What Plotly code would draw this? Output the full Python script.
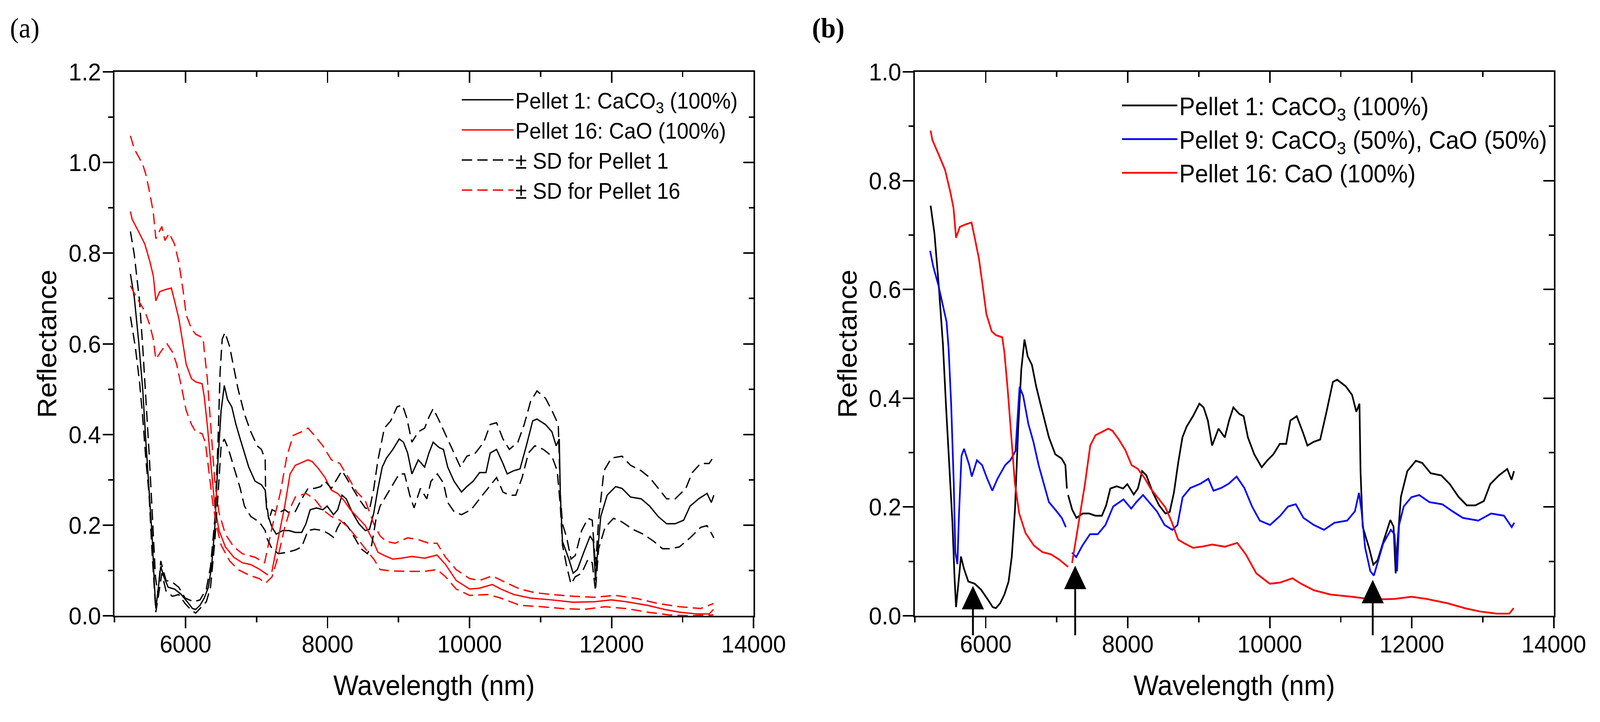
import plotly.graph_objects as go

# ---------------- data ----------------
# Pellet 1: CaCO3 (100%) -- mean
p1_x = [5224, 5278, 5337, 5397, 5442, 5487, 5531, 5561, 5582, 5612, 5651, 5695, 5755, 5845, 5934,
        6024, 6098, 6143, 6203, 6263, 6322, 6367, 6412, 6457, 6501, 6546, 6591, 6651, 6710, 6770,
        6830, 6890, 6979, 7069, 7122, 7143, 7150, 7160, 7218, 7278, 7367, 7457, 7546, 7636, 7696,
        7755, 7845, 7934, 7994, 8084, 8143, 8203, 8263, 8352, 8442, 8531, 8591, 8651, 8710, 8770,
        8830, 8919, 9009, 9069, 9128, 9188, 9278, 9367, 9427, 9487, 9572, 9632, 9692, 9781, 9886,
        9961, 10051, 10141, 10231, 10290, 10380, 10470, 10530, 10620, 10710, 10799, 10889, 10949, 11069, 11159,
        11219, 11263, 11278, 11308, 11398, 11458, 11518, 11608, 11698, 11743, 11773, 11802, 11847, 11937, 12057,
        12147, 12266, 12416, 12536, 12656, 12775, 12895, 13015, 13105, 13225, 13344, 13404, 13440]
p1_y = [0.754, 0.703, 0.610, 0.500, 0.383, 0.281, 0.172, 0.070, 0.016, 0.055, 0.109, 0.086, 0.063, 0.059, 0.048,
        0.031, 0.016, 0.014, 0.023, 0.039, 0.063, 0.109, 0.195, 0.344, 0.453, 0.508, 0.477, 0.461, 0.422, 0.390,
        0.359, 0.328, 0.297, 0.289, 0.277, 0.234, None, 0.222, 0.195, 0.180, 0.188, 0.188, 0.184, 0.184, 0.203,
        0.234, 0.238, 0.234, 0.242, 0.223, 0.234, 0.266, 0.258, 0.227, 0.203, 0.188, 0.191, 0.227, 0.281, 0.328,
        0.348, 0.367, 0.390, 0.383, 0.359, 0.313, 0.344, 0.328, 0.359, 0.383, 0.371, 0.367, 0.328, 0.297, 0.273,
        0.285, 0.297, 0.316, 0.316, 0.359, 0.367, 0.336, 0.313, 0.320, 0.324, 0.375, 0.430, 0.434, 0.422, 0.406,
        0.375, 0.390, 0.266, 0.164, 0.125, 0.094, 0.102, 0.140, 0.176, 0.164, 0.078, 0.140, 0.219, 0.266, 0.285,
        0.281, 0.262, 0.258, 0.242, 0.219, 0.203, 0.203, 0.211, 0.242, 0.258, 0.270, 0.250, 0.266]

# Pellet 1 -- mean + SD
p1_hi_x = [5224, 5278, 5352, 5397, 5442, 5487, 5531, 5576, 5612, 5651, 5725, 5815, 5904, 5994, 6113,
           6203, 6293, 6352, 6412, 6457, 6487, 6516, 6555, 6621, 6680, 6740, 6830, 6919, 7009, 7069,
           7122, 7128, 7173, 7218, 7307, 7397, 7457, 7546, 7636, 7725, 7815, 7904, 7964, 8054, 8114,
           8203, 8263, 8352, 8442, 8531, 8591, 8651, 8710, 8800, 8889, 8979, 9054, 9113, 9188, 9278,
           9367, 9427, 9487, 9561, 9692, 9781, 9871, 9961, 10081, 10201, 10290, 10380, 10470, 10560, 10680,
           10769, 10859, 10949, 11069, 11159, 11249, 11278, 11308, 11368, 11428, 11488, 11578, 11668, 11727, 11773,
           11817, 11892, 11997, 12147, 12266, 12416, 12536, 12656, 12775, 12895, 13045, 13135, 13254, 13374, 13440]
p1_hi_y = [0.848, 0.797, 0.695, 0.594, 0.477, 0.359, 0.227, 0.086, 0.047, 0.121, 0.078, 0.074, 0.063, 0.039, 0.031,
           0.035, 0.059, 0.109, 0.211, 0.383, 0.539, 0.610, 0.625, 0.594, 0.547, 0.500, 0.445, 0.406, 0.375, 0.367,
           0.344, 0.266, 0.211, 0.234, 0.227, 0.234, 0.227, 0.230, 0.258, 0.281, 0.281, 0.285, 0.297, 0.281, 0.297,
           0.320, 0.305, 0.281, 0.258, 0.238, 0.234, 0.281, 0.344, 0.414, 0.430, 0.461, 0.465, 0.438, 0.383, 0.406,
           0.414, 0.438, 0.457, 0.434, 0.390, 0.359, 0.328, 0.352, 0.359, 0.383, 0.422, 0.426, 0.390, 0.367, 0.383,
           0.422, 0.473, 0.496, 0.480, 0.453, 0.422, 0.266, 0.203, 0.172, 0.125, 0.133, 0.188, 0.215, 0.211, 0.109,
           0.211, 0.320, 0.348, 0.352, 0.332, 0.320, 0.305, 0.281, 0.258, 0.258, 0.281, 0.316, 0.336, 0.336, 0.352]

# Pellet 1 -- mean - SD
p1_lo_x = [5224, 5292, 5352, 5397, 5442, 5487, 5531, 5582, 5621, 5666, 5725, 5815, 5904, 5994, 6084,
           6143, 6203, 6293, 6352, 6412, 6457, 6501, 6546, 6606, 6680, 6770, 6830, 6919, 7039, 7122,
           7143, 7218, 7307, 7427, 7546, 7636, 7725, 7815, 7934, 8024, 8084, 8143, 8203, 8293, 8382,
           8471, 8561, 8621, 8680, 8740, 8830, 8919, 9009, 9084, 9158, 9218, 9307, 9397, 9457, 9546,
           9632, 9692, 9781, 9886, 10021, 10141, 10260, 10380, 10470, 10560, 10650, 10740, 10829, 10919, 11039,
           11159, 11234, 11278, 11308, 11368, 11428, 11488, 11578, 11668, 11727, 11773, 11817, 11907, 12027, 12147,
           12296, 12446, 12596, 12716, 12835, 12955, 13105, 13254, 13344, 13440]
p1_lo_y = [0.660, 0.594, 0.516, 0.438, 0.344, 0.266, 0.133, 0.008, 0.047, 0.094, 0.055, 0.043, 0.047, 0.027, 0.012,
           0.006, 0.016, 0.031, 0.063, 0.164, 0.266, 0.375, 0.390, 0.367, 0.328, 0.281, 0.242, 0.219, 0.207, 0.188,
           0.172, 0.148, 0.137, 0.140, 0.145, 0.152, 0.188, 0.191, 0.188, 0.180, 0.173, 0.195, 0.211, 0.195, 0.172,
           0.148, 0.137, 0.156, 0.211, 0.242, 0.266, 0.289, 0.313, 0.313, 0.266, 0.238, 0.281, 0.258, 0.297, 0.313,
           0.293, 0.250, 0.230, 0.223, 0.234, 0.258, 0.281, 0.305, 0.273, 0.266, 0.266, 0.305, 0.359, 0.375, 0.367,
           0.352, 0.320, 0.242, 0.156, 0.109, 0.070, 0.086, 0.094, 0.125, 0.117, 0.055, 0.148, 0.195, 0.215, 0.207,
           0.191, 0.180, 0.164, 0.148, 0.148, 0.152, 0.172, 0.195, 0.199, 0.172]

# Pellet 16: CaO (100%) -- mean
p16_x = [5224, 5248, 5337, 5427, 5500, 5546, 5582, 5636, 5725, 5800, 5845, 5905, 5964, 6009, 6084,
         6143, 6233, 6263, 6307, 6352, 6412, 6472, 6561, 6680, 6800, 6919, 7039, 7113, 7160, 7190,
         7216, 7307, 7397, 7472, 7546, 7636, 7725, 7785, 7875, 7964, 8054, 8143, 8233, 8322, 8412,
         8531, 8621, 8710, 8800, 8919, 9039, 9188, 9367, 9542, 9662, 9811, 10000, 10141, 10320, 10440,
         10620, 10859, 11159, 11458, 11757, 11997, 12207, 12506, 12746, 12955, 13195, 13374, 13434]
p16_y = [0.892, 0.875, 0.848, 0.820, 0.780, 0.750, 0.695, 0.715, 0.720, 0.723, 0.695, 0.656, 0.600, 0.555, 0.523,
         0.516, 0.512, 0.484, 0.420, 0.344, 0.242, 0.188, 0.152, 0.129, 0.117, 0.113, 0.103, 0.095, 0.090, None,
         0.097, 0.172, 0.242, 0.313, 0.332, 0.338, 0.344, 0.340, 0.324, 0.305, 0.277, 0.270, 0.254, 0.234, 0.219,
         0.199, 0.172, 0.140, 0.133, 0.125, 0.127, 0.131, 0.127, 0.134, 0.113, 0.078, 0.059, 0.061, 0.069, 0.059,
         0.047, 0.039, 0.035, 0.030, 0.031, 0.035, 0.031, 0.023, 0.014, 0.008, 0.004, 0.004, 0.014]

# Pellet 16 -- mean + SD
p16_hi_x = [5224, 5278, 5397, 5442, 5500, 5546, 5582, 5666, 5710, 5770, 5845, 5905, 5964, 6009, 6084,
            6143, 6248, 6263, 6307, 6352, 6412, 6472, 6561, 6680, 6800, 6979, 7113, 7218, 7337, 7427,
            7516, 7636, 7725, 7815, 7934, 8054, 8173, 8293, 8412, 8531, 8651, 8740, 8830, 8949, 9128,
            9278, 9427, 9542, 9662, 9811, 10000, 10141, 10320, 10500, 10710, 10919, 11159, 11458, 11757, 12057,
            12356, 12656, 12955, 13254, 13434]
p16_hi_y = [1.059, 1.030, 0.996, 0.973, 0.930, 0.890, 0.832, 0.859, 0.828, 0.844, 0.820, 0.780, 0.720, 0.664, 0.633,
            0.621, 0.613, 0.586, 0.523, 0.430, 0.297, 0.227, 0.180, 0.152, 0.137, 0.129, 0.117, 0.195, 0.273, 0.352,
            0.398, 0.406, 0.414, 0.398, 0.375, 0.344, 0.336, 0.305, 0.273, 0.254, 0.203, 0.176, 0.164, 0.160, 0.172,
            0.168, 0.160, 0.160, 0.129, 0.102, 0.082, 0.078, 0.088, 0.074, 0.059, 0.051, 0.047, 0.043, 0.041, 0.045,
            0.038, 0.027, 0.020, 0.016, 0.027]

# Pellet 16 -- mean - SD
p16_lo_x = [5224, 5307, 5427, 5500, 5546, 5582, 5666, 5740, 5815, 5875, 5949, 6009, 6084, 6143, 6233,
            6278, 6322, 6382, 6442, 6501, 6621, 6740, 6890, 7039, 7128, 7218, 7307, 7397, 7487, 7546,
            7696, 7815, 7934, 8054, 8173, 8293, 8412, 8531, 8651, 8740, 8889, 9128, 9367, 9542, 9662,
            9811, 10000, 10260, 10440, 10710, 11009, 11308, 11608, 11907, 12207, 12506, 12805, 13105, 13434]
p16_lo_y = [0.728, 0.703, 0.672, 0.640, 0.610, 0.566, 0.586, 0.600, 0.582, 0.555, 0.500, 0.453, 0.422, 0.406, 0.402,
            0.383, 0.328, 0.250, 0.195, 0.156, 0.121, 0.102, 0.090, 0.082, 0.072, 0.086, 0.133, 0.195, 0.242, 0.262,
            0.270, 0.258, 0.234, 0.219, 0.211, 0.195, 0.172, 0.148, 0.125, 0.102, 0.099, 0.098, 0.098, 0.102, 0.086,
            0.059, 0.045, 0.047, 0.039, 0.023, 0.020, 0.016, 0.014, 0.020, 0.016, 0.008, 0.002, 0.000, 0.002]

# Pellet 9: CaCO3 (50%), CaO (50%)
p9_x = [5217, 5261, 5333, 5406, 5449, 5478, 5514, 5550, 5572, 5601, 5623, 5659, 5695, 5768, 5804,
        5876, 5949, 6021, 6093, 6166, 6274, 6347, 6419, 6477, 6528, 6600, 6673, 6745, 6818, 6890,
        6999, 7071, 7129, 7180, 7216, 7274, 7361, 7469, 7578, 7686, 7795, 7940, 8049, 8121, 8215,
        8302, 8411, 8519, 8628, 8700, 8773, 8881, 9026, 9135, 9207, 9316, 9424, 9533, 9642, 9750,
        9859, 10004, 10148, 10257, 10366, 10474, 10619, 10764, 10909, 11090, 11199, 11256, 11293, 11343, 11416,
        11466, 11524, 11597, 11705, 11756, 11792, 11821, 11886, 11995, 12104, 12248, 12429, 12574, 12719, 12936,
        13117, 13298, 13407, 13443]
p9_y = [0.671, 0.642, 0.608, 0.565, 0.540, 0.490, 0.387, 0.243, 0.116, 0.095, 0.184, 0.294, 0.307, 0.277, 0.256,
        0.286, 0.277, 0.252, 0.230, 0.252, 0.277, 0.286, 0.303, 0.421, 0.404, 0.353, 0.319, 0.277, 0.243, 0.209,
        0.192, 0.180, 0.163, None, 0.116, 0.108, 0.129, 0.150, 0.150, 0.167, 0.201, 0.214, 0.197, 0.209, 0.222,
        0.209, 0.192, 0.167, 0.158, 0.167, 0.218, 0.235, 0.243, 0.252, 0.230, 0.235, 0.243, 0.256, 0.235, 0.201,
        0.175, 0.167, 0.184, 0.201, 0.205, 0.180, 0.167, 0.158, 0.171, 0.175, 0.192, 0.226, 0.192, 0.125, 0.082,
        0.074, 0.099, 0.133, 0.158, 0.150, 0.082, 0.167, 0.201, 0.218, 0.222, 0.209, 0.205, 0.192, 0.180, 0.175,
        0.188, 0.184, 0.163, 0.171]

# Arrows in panel (b)
arrow_x = [5820, 7260, 11450]
arrow_tip = [0.055, 0.092, 0.066]
arrow_tail = -0.037

legend_a = ["Pellet 1: CaCO<sub>3</sub> (100%)", "Pellet 16: CaO (100%)", "± SD for Pellet 1", "± SD for Pellet 16"]
legend_b = ["Pellet 1: CaCO<sub>3</sub> (100%)", "Pellet 9: CaCO<sub>3</sub> (50%), CaO (50%)", "Pellet 16: CaO (100%)"]

# ---------------- figure ----------------
W, H = 4331, 1849
FONT = "Liberation Sans"
BLACK, RED, BLUE = "#000000", "#ff0000", "#0000ff"
DASH = "28px,14px"

fig = go.Figure()

def add(x, y, color, name, xa, ya, legend, dash="solid", width=3.5, show=True, group=None):
    fig.add_trace(go.Scatter(x=x, y=y, mode="lines", name=name,
                             line=dict(color=color, width=width, dash=dash),
                             xaxis=xa, yaxis=ya, legend=legend, showlegend=show,
                             legendgroup=group, connectgaps=False, hoverinfo="skip"))

# panel (a)
add(p1_x, p1_y, BLACK, legend_a[0], "x", "y", "legend")
add(p16_x, p16_y, RED, legend_a[1], "x", "y", "legend")
add(p1_hi_x, p1_hi_y, BLACK, legend_a[2], "x", "y", "legend", dash=DASH, group="sd1")
add(p16_hi_x, p16_hi_y, RED, legend_a[3], "x", "y", "legend", dash=DASH, group="sd16")
add(p1_lo_x, p1_lo_y, BLACK, legend_a[2], "x", "y", "legend", dash=DASH, show=False, group="sd1")
add(p16_lo_x, p16_lo_y, RED, legend_a[3], "x", "y", "legend", dash=DASH, show=False, group="sd16")

# panel (b)
add(p1_x, p1_y, BLACK, legend_b[0], "x2", "y2", "legend2", width=4.5)
add(p9_x, p9_y, BLUE, legend_b[1], "x2", "y2", "legend2", width=4.5)
add(p16_x, p16_y, RED, legend_b[2], "x2", "y2", "legend2", width=4.5)

# empty traces so the mirrored (inward-tick) axes are drawn
for xa, ya in (("x3", "y3"), ("x4", "y4")):
    fig.add_trace(go.Scatter(x=[None], y=[None], xaxis=xa, yaxis=ya, showlegend=False, hoverinfo="skip"))

dom_y = [1 - 1577 / H, 1 - 184 / H]
dom_a = [310 / W, 2040 / W]
dom_b = [2476 / W, 4206 / W]

tickfont = dict(family=FONT, size=63, color="black")
titlefont = dict(family=FONT, size=72, color="black")

def xax(domain, anchor, overlay=None):
    d = dict(domain=domain, anchor=anchor, range=[5000, 14000], dtick=2000, tick0=0, tickformat="d",
             showgrid=False, zeroline=False, showline=True, linewidth=4, linecolor="black",
             tickwidth=4, tickcolor="black", automargin=False,
             minor=dict(dtick=1000, tick0=0, ticklen=13, tickwidth=4, tickcolor="black"))
    if overlay is None:
        d.update(ticks="outside", ticklen=28, tickfont=tickfont, mirror=True, ticklabelstandoff=-14,
                 title=dict(text="Wavelength (nm)", font=titlefont, standoff=48))
        d["minor"]["ticks"] = "outside"
    else:
        d.update(overlaying=overlay, side="top", ticks="inside", ticklen=28, showticklabels=False)
        d["minor"]["ticks"] = "inside"
    return d

def yax(domain, anchor, top, overlay=None):
    d = dict(domain=domain, anchor=anchor, range=[0, top], dtick=0.2, tick0=0, tickformat=".1f",
             showgrid=False, zeroline=False, showline=True, linewidth=4, linecolor="black",
             tickwidth=4, tickcolor="black", automargin=False,
             minor=dict(dtick=0.1, tick0=0, ticklen=13, tickwidth=4, tickcolor="black"))
    if overlay is None:
        d.update(ticks="outside", ticklen=28, tickfont=tickfont, mirror=True, ticklabelstandoff=-8,
                 title=dict(text="Reflectance", font=titlefont, standoff=10))
        d["minor"]["ticks"] = "outside"
    else:
        d.update(overlaying=overlay, side="right", ticks="inside", ticklen=28, showticklabels=False)
        d["minor"]["ticks"] = "inside"
    return d

fig.update_layout(
    width=W, height=H,
    margin=dict(l=0, r=0, t=0, b=0),
    paper_bgcolor="white", plot_bgcolor="white",
    font=dict(family=FONT, color="black"),
    xaxis=xax(dom_a, "y"), yaxis=yax(dom_y, "x", 1.2),
    xaxis2=xax(dom_b, "y2"), yaxis2=yax(dom_y, "x2", 1.0),
    xaxis3=xax(dom_a, "y", overlay="x"), yaxis3=yax(dom_y, "x", 1.2, overlay="y"),
    xaxis4=xax(dom_b, "y2", overlay="x2"), yaxis4=yax(dom_y, "x2", 1.0, overlay="y2"),
    legend=dict(x=(1395 - 150) / W, y=1 - 212 / H, xanchor="left", yanchor="top",
                bgcolor="rgba(0,0,0,0)", borderwidth=0, tracegroupgap=0, itemwidth=140,
                font=dict(family=FONT, size=57, color="black")),
    legend2=dict(x=(3187 - 155) / W, y=1 - 222 / H, xanchor="left", yanchor="top",
                 bgcolor="rgba(0,0,0,0)", borderwidth=0, tracegroupgap=0, itemwidth=150,
                 font=dict(family=FONT, size=64, color="black")),
    showlegend=True,
)

# panel labels
fig.add_annotation(text="(a)", x=25 / W, y=1 - 30 / H, xref="paper", yref="paper",
                   xanchor="left", yanchor="top", showarrow=False,
                   font=dict(family="Liberation Serif", size=72, color="black"))
fig.add_annotation(text="<b>(b)</b>", x=2196 / W, y=1 - 30 / H, xref="paper", yref="paper",
                   xanchor="left", yanchor="top", showarrow=False,
                   font=dict(family="Liberation Serif", size=72, color="black"))

# arrows
for ax_, tip in zip(arrow_x, arrow_tip):
    fig.add_annotation(x=ax_, y=tip, ax=ax_, ay=arrow_tail, xref="x2", yref="y2",
                       axref="x2", ayref="y2", text="", showarrow=True,
                       arrowhead=2, arrowsize=2.4, arrowwidth=5, arrowcolor="black")

# fit the fixed-size figure exactly into the browser viewport
fit_js = """
document.documentElement.style.margin = '0';
document.body.style.margin = '0';
document.body.style.overflow = 'hidden';
var gd = document.getElementById('{plot_id}');
var sx = window.innerWidth / %d, sy = window.innerHeight / %d;
if (Math.abs(sx - 1) > 0.002 || Math.abs(sy - 1) > 0.002) {
  gd.style.transformOrigin = '0 0';
  gd.style.transform = 'scale(' + sx + ',' + sy + ')';
}
""" % (W, H)

fig.write_html("out.html", post_script=fit_js, config={"displayModeBar": False})
